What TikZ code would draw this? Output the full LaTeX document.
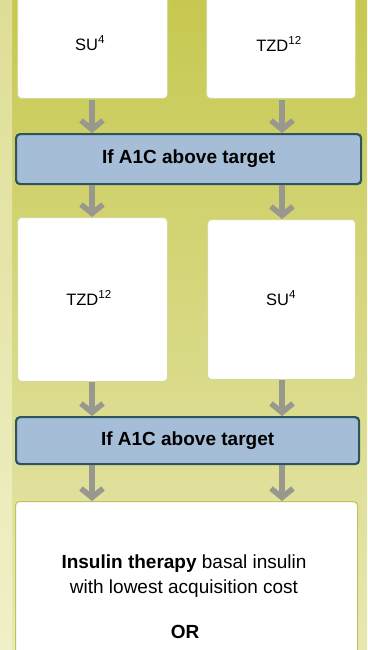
\documentclass[tikz,border=0pt]{standalone}
\usepackage{fontspec}
\setmainfont{Liberation Sans}
\usetikzlibrary{arrows.meta}
\definecolor{bgtop}{RGB}{198,200,80}
\definecolor{bgbot}{RGB}{232,232,178}
\definecolor{striptop}{RGB}{222,222,150}
\definecolor{stripbot}{RGB}{240,240,200}
\definecolor{barfill}{RGB}{166,189,215}
\definecolor{barline}{RGB}{45,85,95}
\definecolor{boxline}{RGB}{214,216,150}
\definecolor{insline}{RGB}{190,196,90}
\definecolor{arrgray}{RGB}{152,152,142}
\tikzset{
  whitebox/.style={draw=boxline, line width=1pt, fill=white, rounded corners=4pt, inner sep=0pt},
  bar/.style={draw=barline, line width=2.2pt, fill=barfill, rounded corners=4pt, inner sep=0pt,
    font=\fontsize{19}{22}\selectfont\bfseries},
  arr/.style={draw=arrgray, line width=6pt, -{Straight Barb[length=9pt,width=22pt,line width=5.5pt]}},
  lbl/.style={font=\fontsize{16.5}{19}\selectfont}
}
\begin{document}
\begin{tikzpicture}[x=1pt,y=-1pt]
\useasboundingbox (0,0) rectangle (367,650);
\shade[top color=bgtop, bottom color=bgbot] (0,0) rectangle (367,650);
\shade[top color=striptop, bottom color=stripbot] (0,0) rectangle (12,650);
% top boxes
\node[whitebox, minimum width=150pt, minimum height=108pt, anchor=north west] (su1) at (17,-10) {};
\node[lbl] (su1t) at (90,43) {SU\textsuperscript{4}};
\node[whitebox, minimum width=149pt, minimum height=108pt, anchor=north west] (tzd1) at (206,-10) {};
\node[lbl] (tzd1t) at (279,44) {TZD\textsuperscript{12}};
% bar 1
\node[bar, minimum width=345pt, minimum height=50pt, anchor=north west] (bar1) at (15,133) {If A1C above target};
% middle boxes
\node[whitebox, minimum width=150pt, minimum height=164pt, anchor=north west] (tzd2) at (17,217) {};
\node[lbl] (tzd2t) at (89,298) {TZD\textsuperscript{12}};
\node[whitebox, minimum width=148pt, minimum height=160pt, anchor=north west] (su2) at (207,219) {};
\node[lbl] (su2t) at (281,298) {SU\textsuperscript{4}};
% bar 2
\node[bar, minimum width=343pt, minimum height=47pt, anchor=north west] (bar2) at (15,416) {If A1C above target};
% bottom box
\node[whitebox, draw=insline, minimum width=342pt, minimum height=170pt, anchor=north west] (ins) at (15,501) {};
\node[align=center, font=\fontsize{19}{25}\selectfont] (inst) at (184,576) {\textbf{Insulin therapy} basal insulin\\ with lowest acquisition cost};
\node[font=\fontsize{19}{22}\selectfont\bfseries] (or) at (185,632) {OR};
% arrows
\coordinate (a1) at (92,100); \coordinate (a2) at (282,100);
\draw[arr] (a1) -- (bar1.north -| a1);
\draw[arr] (a2) -- (bar1.north -| a2);
\draw[arr] (bar1.south -| a1) -- (tzd2.north -| a1);
\draw[arr] (bar1.south -| a2) -- (su2.north -| a2);
\draw[arr] (tzd2.south -| a1) -- (bar2.north -| a1);
\draw[arr] (su2.south -| a2) -- (bar2.north -| a2);
\draw[arr] (bar2.south -| a1) -- (ins.north -| a1);
\draw[arr] (bar2.south -| a2) -- (ins.north -| a2);
\end{tikzpicture}
\end{document}
